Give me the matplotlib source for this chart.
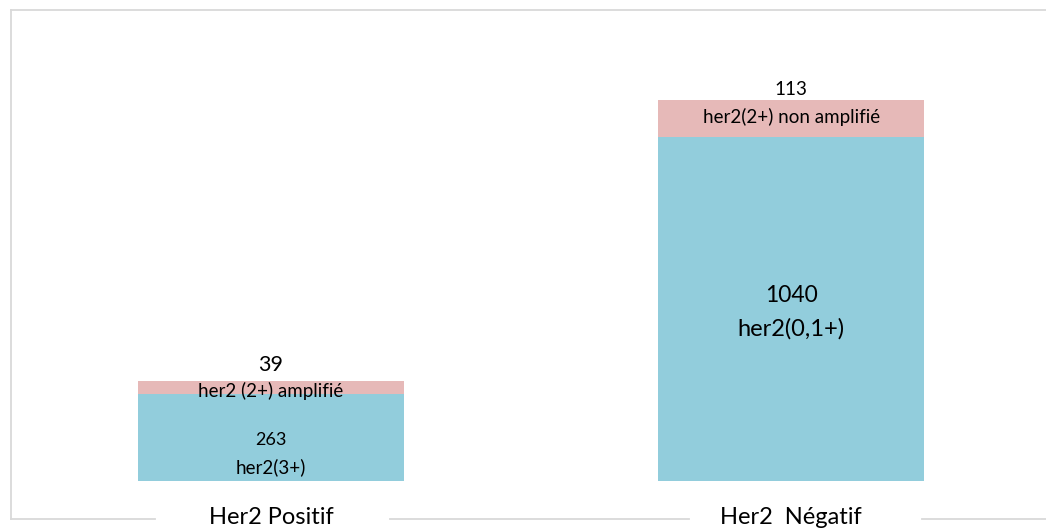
import matplotlib
matplotlib.use("Agg")
import matplotlib.pyplot as plt
from matplotlib.lines import Line2D
from matplotlib.transforms import offset_copy

categories = ["Her2 Positif", "Her2  Négatif"]
base_values = [263, 1040]
top_values = [39, 113]
base_labels = ["her2(3+)", "her2(0,1+)"]
top_labels = ["her2 (2+) amplifié", "her2(2+) non amplifié"]

BLUE = "#92CDDC"
PINK = "#E6B9B8"
GRID = "#D9D9D9"
FONT = "Lato"

W, H = 1046, 532
fig = plt.figure(figsize=(W / 100, H / 100), dpi=100)
ax = fig.add_axes([11 / W, 51 / H, (W - 11) / W, 471 / H])
ax.set_xlim(-0.5, 1.49)
ax.set_ylim(0, 1424)
ax.axis("off")

x = list(range(len(categories)))
width = 0.512
ax.bar(x, base_values, width=width, color=BLUE, edgecolor="none")
ax.bar(x, top_values, width=width, bottom=base_values, color=PINK, edgecolor="none")

def off(dy):
    return offset_copy(ax.transData, fig=fig, x=0, y=dy, units="dots")

def txt(xv, yv, s, dy, size):
    ax.text(xv, yv, s, transform=off(dy), ha="center", va="center",
            fontsize=size, family=FONT, color="#000000")

# Positif bar labels
txt(x[0], base_values[0] + top_values[0], str(top_values[0]), 16, 15.5)
txt(x[0], base_values[0] + top_values[0], top_labels[0], -10, 13.5)
txt(x[0], base_values[0] / 2, str(base_values[0]), -2, 13)
txt(x[0], base_values[0] / 2, base_labels[0], -30, 13.5)

# Négatif bar labels
txt(x[1], base_values[1] + top_values[1], str(top_values[1]), 10, 13.5)
txt(x[1], base_values[1] + top_values[1] / 2, top_labels[1], 1, 13.5)
txt(x[1], base_values[1] / 2, str(base_values[1]), 14, 16.5)
txt(x[1], base_values[1] / 2, base_labels[1], -20, 17)

# Category labels
for xi, cat in zip(x, categories):
    txt(xi, 0, cat, -36, 17)

# Border (figure pixel coords)
def fl(x0, y0, x1, y1):
    fig.add_artist(Line2D([x0 / W, x1 / W], [1 - y0 / H, 1 - y1 / H],
                          color=GRID, lw=1.3, transform=fig.transFigure))

fl(11, 10, W, 10)
fl(11, 10, 11, 519)
for a, b in [(11, 155), (390, 689), (922, W)]:
    fl(a, 519, b, 519)

fig.savefig("out.png", dpi=100, facecolor="white")
